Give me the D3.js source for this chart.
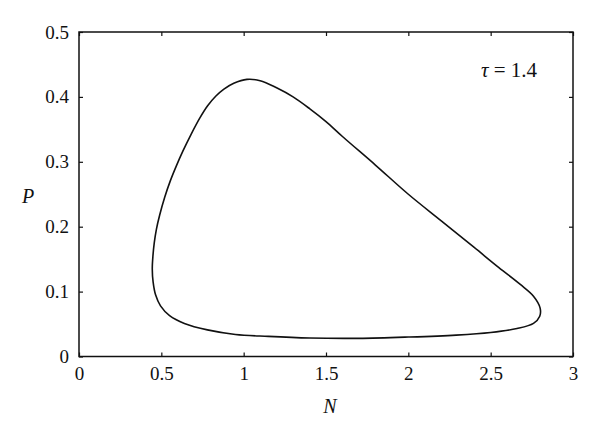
<!doctype html>
<html>
<head>
    <style>
        body { margin: 0; background: #fff; }
        text { font-family: "Liberation Serif", "DejaVu Serif", serif; fill: #111; }
    </style>
    <script src="https://d3js.org/d3.v7.min.js"></script>
</head>
<body>
<svg width="600" height="441"></svg>
<script>

    // limit cycle (N, P), going clockwise from the left edge
    var cycleN = [0.445, 0.449, 0.457, 0.470, 0.490, 0.520, 0.555, 0.590, 0.630, 0.680, 0.735, 0.780, 0.830, 0.880, 0.940, 1.02, 1.10, 1.20, 1.30, 1.40, 1.50, 1.60, 1.80, 2.00, 2.20, 2.40, 2.55, 2.68, 2.76, 2.80, 2.798, 2.76, 2.66, 2.50, 2.29, 2.00, 1.70, 1.40, 1.15, 0.95, 0.78, 0.64, 0.55, 0.495, 0.465, 0.450];
    var cycleP = [0.135, 0.155, 0.175, 0.196, 0.218, 0.245, 0.271, 0.293, 0.316, 0.342, 0.368, 0.386, 0.401, 0.412, 0.421, 0.427, 0.425, 0.414, 0.400, 0.382, 0.362, 0.339, 0.295, 0.250, 0.209, 0.168, 0.137, 0.111, 0.093, 0.075, 0.062, 0.051, 0.043, 0.037, 0.033, 0.030, 0.028, 0.0285, 0.031, 0.034, 0.041, 0.051, 0.063, 0.078, 0.095, 0.115];
    var xTicks = [0, 0.5, 1, 1.5, 2, 2.5, 3];
    var yTicks = [0, 0.1, 0.2, 0.3, 0.4, 0.5];

    var svg = d3.select("svg");
    var plotL = 79, plotR = 573, plotT = 32, plotB = 356.5;

    var x = d3.scaleLinear().domain([0, 3]).range([plotL, plotR]),
        y = d3.scaleLinear().domain([0, 0.5]).range([plotB, plotT]);

    var fmt = function(d) { return d === 0 ? "0" : String(d); };

    // ticks on all four sides, pointing inward
    svg.append("g")
       .attr("transform", "translate(0," + plotB + ")")
       .call(d3.axisBottom(x).tickValues(xTicks).tickSize(-4).tickPadding(10).tickFormat(fmt))
       .call(function(g) { g.select(".domain").remove(); });
    svg.append("g")
       .attr("transform", "translate(0," + plotT + ")")
       .call(d3.axisTop(x).tickValues(xTicks).tickSize(-4).tickFormat(""))
       .call(function(g) { g.select(".domain").remove(); });
    svg.append("g")
       .attr("transform", "translate(" + plotL + ",0)")
       .call(d3.axisLeft(y).tickValues(yTicks).tickSize(-4).tickPadding(10).tickFormat(fmt))
       .call(function(g) { g.select(".domain").remove(); });
    svg.append("g")
       .attr("transform", "translate(" + plotR + ",0)")
       .call(d3.axisRight(y).tickValues(yTicks).tickSize(-4).tickFormat(""))
       .call(function(g) { g.select(".domain").remove(); });

    svg.selectAll(".tick line").attr("stroke", "#111").attr("stroke-width", 1.2);
    svg.selectAll(".tick text")
       .style("font-family", "'Liberation Serif', 'DejaVu Serif', serif")
       .style("font-size", "19px")
       .attr("fill", "#111");

    svg.append("rect")
       .attr("x", plotL).attr("y", plotT)
       .attr("width", plotR - plotL).attr("height", plotB - plotT)
       .attr("fill", "none").attr("stroke", "#111").attr("stroke-width", 1.5);

    var pts = cycleN.map(function(n, i) { return [n, cycleP[i]]; });
    var line = d3.line()
        .x(function(d) { return x(d[0]); })
        .y(function(d) { return y(d[1]); })
        .curve(d3.curveCatmullRomClosed.alpha(0.5));

    svg.append("path")
       .datum(pts)
       .attr("d", line)
       .attr("fill", "none")
       .attr("stroke", "#111")
       .attr("stroke-width", 1.6);

    svg.append("text")
       .attr("x", 330).attr("y", 413)
       .attr("text-anchor", "middle")
       .attr("font-size", "20px")
       .attr("font-style", "italic")
       .text("N");

    svg.append("text")
       .attr("x", 28).attr("y", 203)
       .attr("text-anchor", "middle")
       .attr("font-size", "20px")
       .attr("font-style", "italic")
       .text("P");

    var tau = svg.append("text")
       .attr("x", 481).attr("y", 77)
       .attr("font-size", "21px");
    tau.append("tspan").attr("font-style", "italic").text("τ");
    tau.append("tspan").text(" = 1.4");

</script>
</body>
</html>
